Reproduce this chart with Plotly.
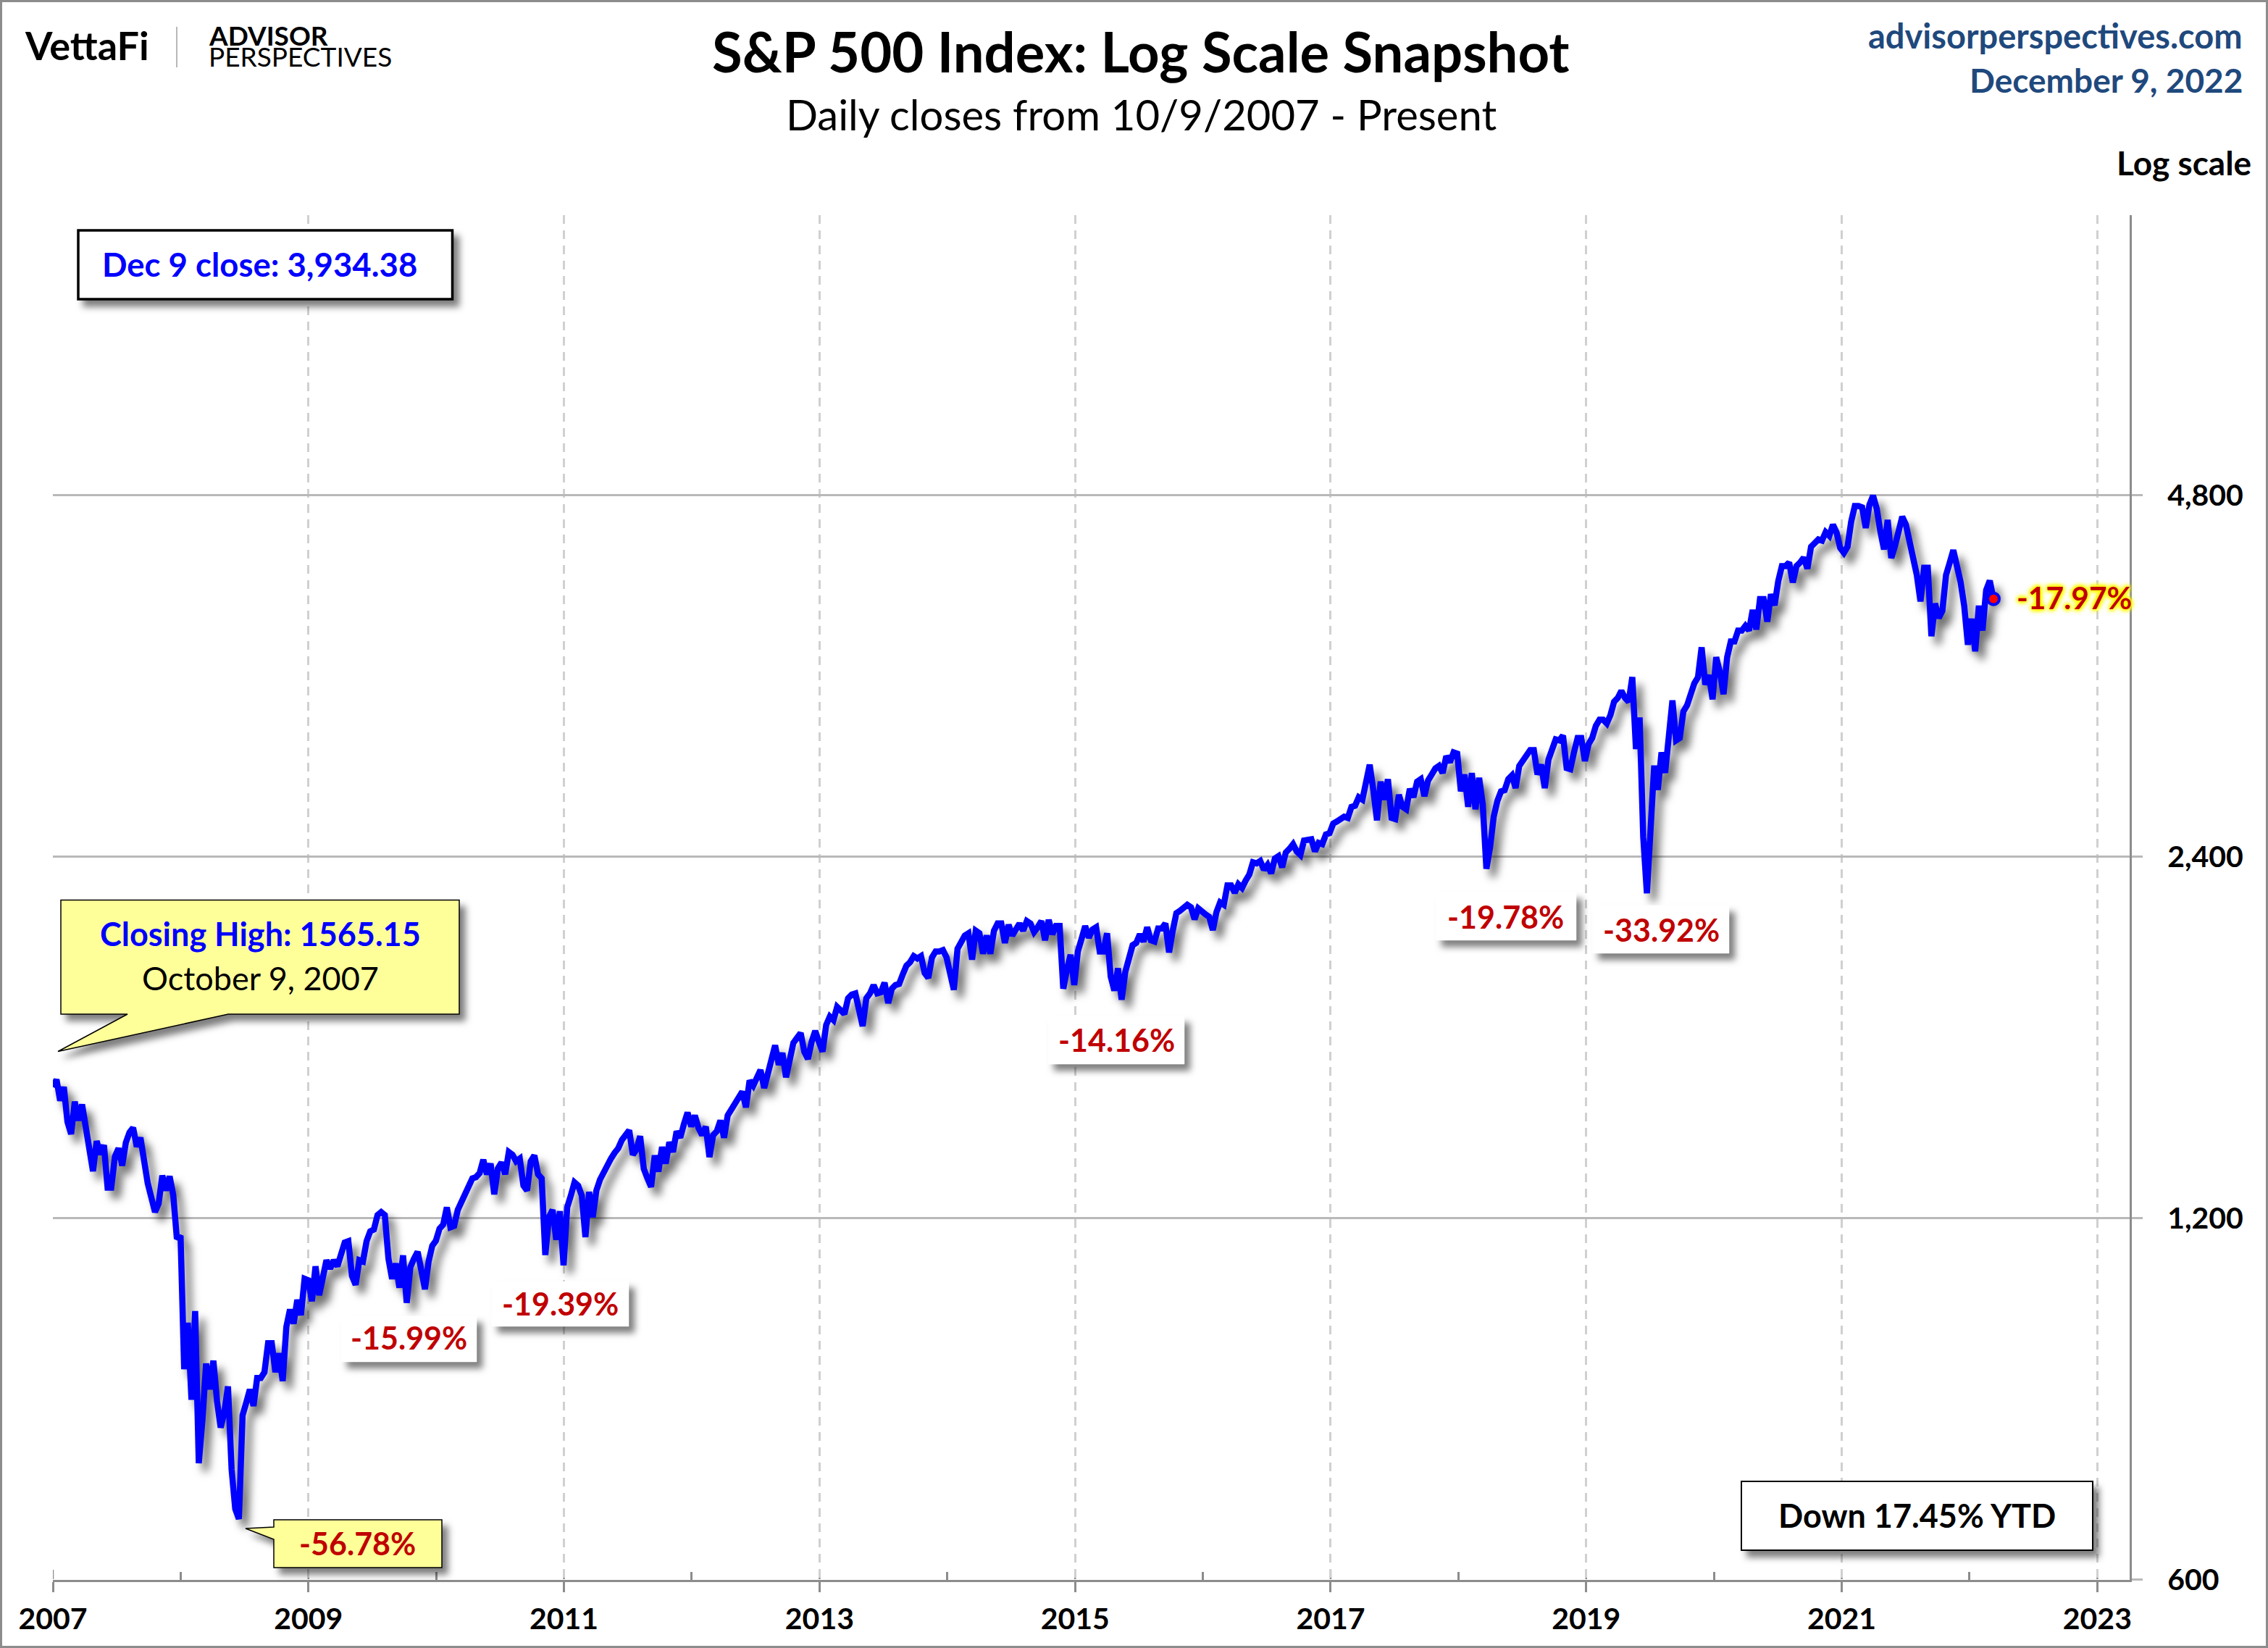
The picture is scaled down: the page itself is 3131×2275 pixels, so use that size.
"""S&P 500 log scale snapshot, daily closes from the October 2007 high."""
import math

import numpy as np
from plotly.graph_objs import Scatter, Figure

WIDTH = 3131
HEIGHT = 2275

# Closes, evenly spaced along the time axis.
CLOSES = [
    1543, 1565, 1503, 1543, 1443, 1410, 1500, 1447, 1492, 1427, 1350, 1313, 1391, 1356, 1380, 1272,
    1272, 1350, 1372, 1327, 1387, 1414, 1427, 1376, 1400, 1335, 1283, 1248, 1214, 1234, 1302, 1265,
    1300, 1254, 1153, 1160, 898, 982, 847, 1004, 750, 815, 908, 864, 913, 845, 803, 827,
    869, 741, 687, 674, 822, 842, 864, 837, 883, 883, 893, 944, 944, 893, 926, 878,
    974, 1007, 980, 1026, 996, 1068, 1065, 1023, 1094, 1035, 1074, 1107, 1089, 1107, 1094, 1122,
    1145, 1148, 1074, 1056, 1107, 1104, 1148, 1170, 1174, 1207, 1214, 1207, 1110, 1068, 1100, 1050,
    1117, 1020, 1092, 1110, 1125, 1086, 1047, 1104,
    1138, 1149, 1176, 1185, 1225, 1179, 1182, 1219, 1239, 1259, 1271, 1295, 1298, 1308, 1342, 1305,
    1332, 1256, 1320, 1335, 1305, 1362, 1355, 1338, 1345, 1277, 1265, 1338, 1353, 1305, 1295, 1118,
    1202, 1219, 1151, 1216, 1096, 1225, 1253, 1285, 1277, 1253, 1157, 1262, 1202, 1265, 1292, 1312,
    1325, 1345, 1360, 1372, 1394, 1407, 1420, 1355, 1369, 1404, 1319, 1295, 1274, 1353, 1312, 1375,
    1332, 1388, 1362, 1417, 1400, 1437, 1469, 1430, 1461, 1426, 1407, 1430, 1349, 1407, 1417, 1447,
    1400, 1461, 1478, 1501, 1515, 1529, 1484, 1562, 1547, 1569, 1594, 1540, 1583, 1632, 1671, 1610,
    1647, 1572, 1618, 1679, 1695, 1711,
    1651, 1628, 1682, 1718, 1682, 1651, 1738, 1766, 1754, 1799, 1787, 1775, 1829, 1842, 1846, 1787,
    1734, 1829, 1846, 1876, 1846, 1850, 1885, 1812, 1863, 1876, 1880, 1915, 1947, 1960, 1983, 1974,
    1983, 1920, 1902, 1978, 2001, 2001, 2006, 1978, 1907, 1859, 2011, 2039, 2063, 2072, 1970, 2082,
    2072, 1992, 2063, 1992, 2082, 2111, 2111, 2034, 2106, 2063, 2091, 2111, 2082, 2121, 2111, 2077,
    2096, 2121, 2044, 2126, 2068, 2101, 2101, 1863, 1932, 1988, 1876, 2001, 2049, 2101, 2054, 2087,
    2096, 2001, 2001, 2072, 1907, 1856, 1937, 1824, 1924, 1978, 2025, 2034, 2068, 2039, 2096, 2044,
    2039, 2091, 2091, 2111, 1997, 2082, 2153,
    2163, 2178, 2188, 2178, 2128, 2173, 2158, 2148, 2138, 2085, 2158, 2198, 2188, 2271, 2271, 2239,
    2276, 2260, 2292, 2319, 2374, 2369, 2380, 2340, 2362, 2324, 2391, 2402, 2351, 2419, 2436, 2458,
    2424, 2408, 2475, 2481, 2481, 2424, 2464, 2458, 2504, 2510, 2557, 2567, 2579, 2591, 2585, 2640,
    2646, 2689, 2677, 2784, 2863, 2726, 2573, 2771, 2677, 2784, 2585, 2579, 2702, 2640, 2628, 2733,
    2689, 2771, 2784, 2695, 2777, 2809, 2842, 2856, 2817, 2910, 2876, 2931, 2924, 2720, 2809, 2640,
    2817, 2628, 2791, 2652, 2345, 2442, 2591, 2670, 2720, 2726, 2784, 2804, 2737, 2856, 2883, 2910,
    2944, 2944, 2809, 2863, 2737, 2890, 2950, 3005,
    2999, 3027, 2844, 2838, 2931, 3013, 3013, 2883, 2977, 3013, 3084, 3120, 3120, 3098, 3148, 3230,
    3253, 3298, 3253, 3230, 3386, 2950, 3134, 2490, 2237, 2520, 2858, 2728, 2931, 2818, 3041, 3238,
    2999, 3013, 3170, 3207, 3276, 3346, 3385, 3585, 3338, 3399, 3245, 3518, 3419, 3277, 3518, 3625,
    3625, 3702, 3702, 3736, 3702, 3852, 3710, 3932, 3932, 3766, 3969, 3886, 4070, 4189, 4189, 4218,
    4060, 4189, 4218, 4258, 4169, 4348, 4378, 4409, 4399, 4471, 4440, 4535, 4467, 4337, 4297, 4348,
    4562, 4701, 4701, 4689, 4507, 4711, 4795,
    4677, 4478, 4325, 4577, 4255, 4353, 4457, 4606, 4537, 4401, 4255, 4118, 3915, 4176, 4176, 3662,
    3899, 3792, 3845, 4118, 4215, 4319, 4189, 4063, 3879, 3603, 3787, 3558, 3883, 3703, 4000, 4074,
    3934.38,
]

FIRST_YEAR = 2007
LAST_YEAR = 2022.187
AXIS_END_YEAR = 2023.253
AXIS_LOW = 600
AXIS_HIGH = 8211

YEAR_TICKS = [2007, 2009, 2011, 2013, 2015, 2017, 2019, 2021, 2023]
YEAR_LABELS = ['2007', '2009', '2011', '2013', '2015', '2017', '2019', '2021', '2023']
MINOR_YEARS = [2008, 2010, 2012, 2014, 2016, 2018, 2020, 2022]
VALUE_TICKS = [600, 1200, 2400, 4800]
VALUE_LABELS = ['600', '1,200', '2,400', '4,800']

FONT = 'Lato'
BLUE = '#0000FF'
RED = '#C00000'
NAVY = '#1F497D'
PALE_YELLOW = '#FFFF99'
AXIS_COLOUR = '#8C8C8C'
GRID_COLOUR = '#B9B9B9'
DASH_COLOUR = '#D0D0D0'

# Applied once the page has drawn: CSS shadows for the line and the boxes.
POST_SCRIPT = """
document.body.style.margin = '0';
var lineTrace = document.querySelector('.scatterlayer .trace');
if (lineTrace) { lineTrace.style.filter = 'drop-shadow(9px 11px 6px rgba(0,0,0,0.55))'; }
document.querySelectorAll('.layer-above .shapelayer path').forEach(function (el) {
    el.style.filter = 'drop-shadow(8px 9px 5px rgba(0,0,0,0.5))';
});
"""


def fx(px: float) -> float:
    """Return the paper coordinate of a horizontal pixel position."""
    return px / WIDTH


def fy(py: float) -> float:
    """Return the paper coordinate of a vertical pixel position."""
    return 1 - py / HEIGHT


def add_text(fig, text, x, y, size, colour='black', bold=True, anchor='center', shadow=None) -> None:
    """Add a text label at a pixel position."""
    font = dict(family=FONT, size=size, color=colour)
    if shadow:
        font['shadow'] = shadow
    fig.add_annotation(x=fx(x), y=fy(y - 2), xref='paper', yref='paper', text=f'<b>{text}</b>' if bold else text,
                       showarrow=False, xanchor=anchor, yanchor='middle', font=font)


def add_box(fig, x0, y0, x1, y1, fill='white', border='black', border_width=2.0) -> None:
    """Add a rectangle with a drop shadow."""
    fig.add_shape(type='rect', xref='paper', yref='paper', x0=fx(x0), y0=fy(y0), x1=fx(x1), y1=fy(y1),
                  fillcolor=fill, line=dict(color=border, width=border_width), layer='above')


def add_callout(fig, points) -> None:
    """Add a speech bubble outline from its corner points."""
    path = 'M ' + ' L '.join(f'{fx(x)} {fy(y)}' for x, y in points) + ' Z'
    fig.add_shape(type='path', xref='paper', yref='paper', path=path, fillcolor=PALE_YELLOW,
                  line=dict(color='black', width=1.5), layer='above')


years = np.linspace(FIRST_YEAR, LAST_YEAR, len(CLOSES))

fig = Figure()
fig.add_trace(Scatter(x=years, y=CLOSES, mode='lines', line=dict(color=BLUE, width=8.5, shape='linear'),
                      hoverinfo='skip'))
fig.add_trace(Scatter(x=[years[-1]], y=[CLOSES[-1]], mode='markers',
                      marker=dict(size=16, color='#FF0000', line=dict(color=BLUE, width=4)),
                      hoverinfo='skip'))

fig.update_layout(width=WIDTH, height=HEIGHT, showlegend=False, paper_bgcolor='white', plot_bgcolor='white',
                  margin=dict(l=0, r=0, t=0, b=0, autoexpand=False))
fig.update_xaxes(domain=[fx(73), fx(2940)], range=[FIRST_YEAR, AXIS_END_YEAR], tickmode='array',
                 tickvals=YEAR_TICKS, ticktext=YEAR_LABELS, showgrid=True, gridcolor=DASH_COLOUR, gridwidth=3,
                 griddash='12px,9px', zeroline=False, showline=True, linecolor=AXIS_COLOUR, linewidth=3,
                 ticks='outside', ticklen=14, tickwidth=2.5, tickcolor=AXIS_COLOUR,
                 ticklabelstandoff=2, tickfont=dict(family=FONT, size=41, color='black', weight=700),
                 minor=dict(tickmode='array', tickvals=MINOR_YEARS,
                            ticks='inside', ticklen=11, tickwidth=2.5, tickcolor=AXIS_COLOUR, showgrid=False))
fig.update_yaxes(domain=[fy(2180.5), fy(297)], type='log', range=[math.log10(AXIS_LOW), math.log10(AXIS_HIGH)],
                 side='right', tickmode='array', tickvals=VALUE_TICKS, ticktext=VALUE_LABELS, showgrid=True,
                 gridcolor=GRID_COLOUR, gridwidth=2.5, zeroline=False, showline=True, linecolor=AXIS_COLOUR,
                 linewidth=3, ticks='outside', ticklen=15, tickwidth=2.5, tickcolor=GRID_COLOUR,
                 ticklabelstandoff=26, tickfont=dict(family=FONT, size=41, color='black', weight=700))

# Outer frame and the logo divider
fig.add_shape(type='rect', xref='paper', yref='paper', x0=fx(1.5), y0=fy(1.5), x1=fx(WIDTH - 1.5),
              y1=fy(HEIGHT - 1.5), line=dict(color=AXIS_COLOUR, width=3), layer='below')
fig.add_shape(type='line', xref='paper', yref='paper', x0=fx(244), y0=fy(37), x1=fx(244), y1=fy(93),
              line=dict(color='#A0A0A0', width=1.5), layer='below')

# Inside half of the major year ticks
for tick in YEAR_TICKS:
    fig.add_shape(type='line', xref='x', yref='paper', x0=tick, x1=tick, y0=fy(2167), y1=fy(2180),
                  line=dict(color=AXIS_COLOUR, width=2.5), layer='below')

# Boxes
add_box(fig, 108, 318, 624.5, 413, border_width=3.5)
add_box(fig, 2404, 2045, 2889, 2140)
add_box(fig, 471, 1817, 658, 1880, border='white', border_width=0.5)
add_box(fig, 679, 1769, 868, 1831, border='white', border_width=0.5)
add_box(fig, 1447, 1403, 1635, 1469, border='white', border_width=0.5)
add_box(fig, 1982, 1232, 2176, 1298, border='white', border_width=0.5)
add_box(fig, 2198.5, 1250, 2387, 1316, border='white', border_width=0.5)
add_callout(fig, [(84, 1242.5), (634, 1242.5), (634, 1400), (315, 1400), (80, 1451.5), (176, 1400), (84, 1400)])
add_callout(fig, [(378, 2098), (610, 2098), (610, 2164), (378, 2164), (378, 2125), (339, 2110), (378, 2108)])

# Headings
add_text(fig, 'S&amp;P 500 Index: Log Scale Snapshot', 1575, 72, 76)
add_text(fig, 'Daily closes from 10/9/2007 - Present', 1575, 160, 58, bold=False)
add_text(fig, 'advisorperspectives.com', 3098, 51, 47, colour=NAVY, anchor='right')
add_text(fig, 'December 9, 2022', 3098, 112, 46, colour=NAVY, anchor='right')
add_text(fig, 'Log scale', 3110, 226, 46, anchor='right')

# Logo
add_text(fig, 'VettaFi', 120, 65, 54)
add_text(fig, 'ADVISOR', 286, 50, 37, anchor='left')
add_text(fig, 'PERSPECTIVES', 286, 79, 37, bold=False, anchor='left')

# Labels
add_text(fig, 'Dec 9 close: 3,934.38', 358, 367, 45.5, colour=BLUE)
add_text(fig, 'Closing High: 1565.15', 359, 1291, 45, colour=BLUE)
add_text(fig, 'October 9, 2007', 359, 1352, 45, bold=False)
add_text(fig, '-56.78%', 494, 2132, 43, colour=RED)
add_text(fig, '-15.99%', 564, 1848, 43, colour=RED)
add_text(fig, '-19.39%', 773.5, 1801, 43, colour=RED)
add_text(fig, '-14.16%', 1541, 1437, 43, colour=RED)
add_text(fig, '-19.78%', 2078, 1267, 43, colour=RED)
add_text(fig, '-33.92%', 2293, 1285, 43, colour=RED)
add_text(fig, 'Down 17.45% YTD', 2646, 2094, 45)
add_text(fig, '-17.97%', 2863, 826, 42.5, colour=RED,
         shadow='0 0 5px #FFFF00, 0 0 5px #FFFF00, 0 0 7px #FFFF00, 0 0 7px #FFFF00, 0 0 9px #FFFF00')

fig.write_html('out.html', post_script=POST_SCRIPT, config={'displayModeBar': False})
